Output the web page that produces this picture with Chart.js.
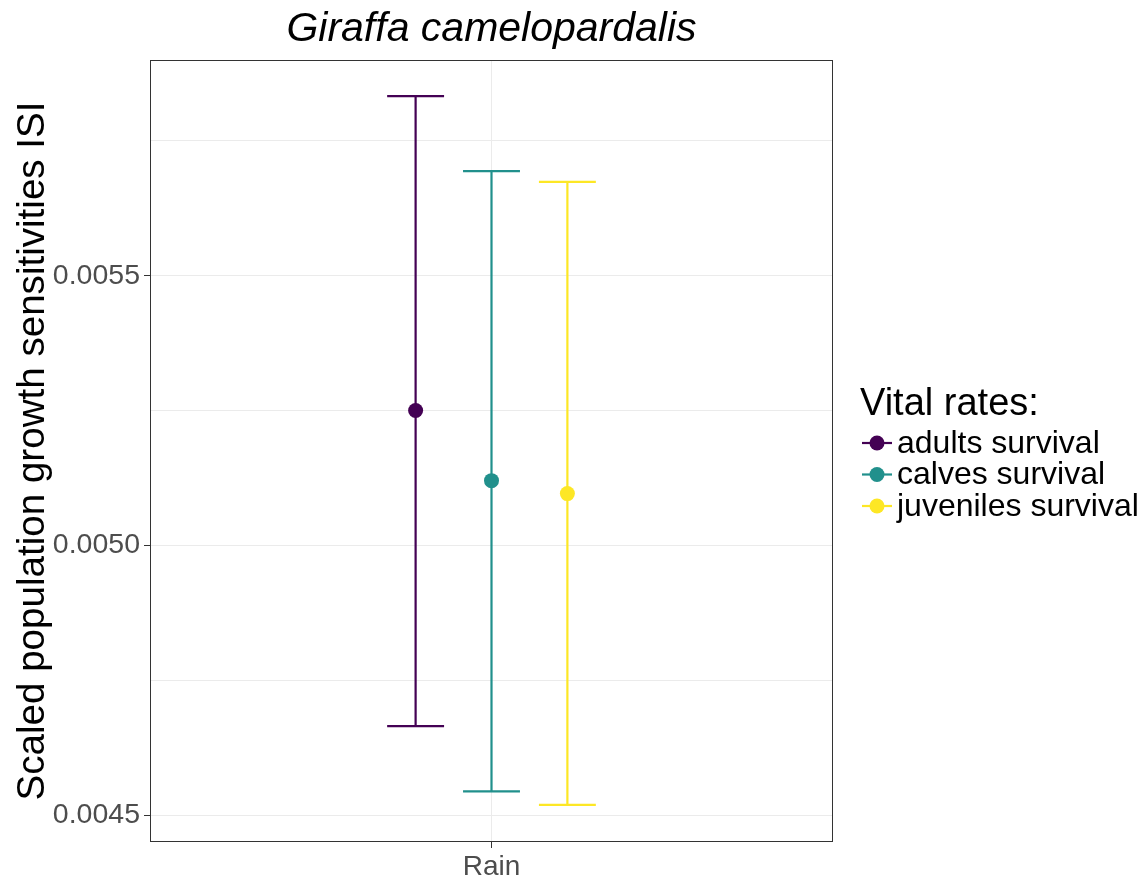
<!DOCTYPE html>
<html>
<head>
<meta charset="utf-8">
<script src="https://cdn.jsdelivr.net/npm/chart.js@4"></script>
<style>
  html, body { margin: 0; padding: 0; background: #fff; }
  #wrap { width: 1146px; height: 877px; }
</style>
</head>
<body>
<div id="wrap"><canvas id="chart" width="1146" height="877"></canvas></div>
<script>
// data
const chartTitle = 'Giraffa camelopardalis';
const yAxisTitle = 'Scaled population growth sensitivities ISI';
const legendTitle = 'Vital rates:';
const category = 'Rain';
const groups = ['adults survival', 'calves survival', 'juveniles survival'];
const means = [0.005250, 0.005120, 0.005096];
const lowers = [0.004665, 0.004544, 0.004519];
const uppers = [0.005833, 0.005694, 0.005674];
const yTickValues = [0.0045, 0.00475, 0.0050, 0.00525, 0.0055, 0.00575];
const yMajorTicks = [0.0045, 0.0050, 0.0055];

const colors = ['#440154', '#21908C', '#FDE725'];
const FONT = '"Liberation Sans", Arial, sans-serif';
const dodgeWidth = 0.4;
const capWidth = 0.1;

// dodge positions around the single category (x = 1)
const xPos = groups.map((g, i) => 1 + (i - (groups.length - 1) / 2) * dodgeWidth / groups.length);

const isMajor = (v) => yMajorTicks.some(m => Math.abs(m - v) < 1e-9);

// error bars, border, title and legend
const extras = {
    id: 'extras',
    beforeDatasetsDraw(chart) {
        const ctx = chart.ctx;
        const x = chart.scales.x, y = chart.scales.y;
        ctx.save();
        ctx.lineWidth = 2.2;
        groups.forEach((g, i) => {
            ctx.strokeStyle = colors[i];
            const px = x.getPixelForValue(xPos[i]);
            const pl = x.getPixelForValue(xPos[i] - capWidth / 2);
            const pr = x.getPixelForValue(xPos[i] + capWidth / 2);
            const top = y.getPixelForValue(uppers[i]);
            const bot = y.getPixelForValue(lowers[i]);
            ctx.beginPath();
            ctx.moveTo(px, top); ctx.lineTo(px, bot);
            ctx.moveTo(pl, top); ctx.lineTo(pr, top);
            ctx.moveTo(pl, bot); ctx.lineTo(pr, bot);
            ctx.stroke();
        });
        ctx.restore();
    },
    afterDraw(chart) {
        const ctx = chart.ctx;
        const a = chart.chartArea;
        ctx.save();
        // panel border
        ctx.strokeStyle = '#333333';
        ctx.lineWidth = 1;
        ctx.strokeRect(a.left + 0.5, a.top + 0.5, a.right - a.left - 1, a.bottom - a.top - 1);

        // title
        ctx.fillStyle = '#000';
        ctx.font = 'italic 41px ' + FONT;
        ctx.textAlign = 'center';
        ctx.textBaseline = 'middle';
        ctx.fillText(chartTitle, (a.left + a.right) / 2, 30);

        // legend
        ctx.textAlign = 'left';
        ctx.font = '38px ' + FONT;
        ctx.fillText(legendTitle, 860, 405);
        ctx.font = '32px ' + FONT;
        groups.forEach((g, i) => {
            const cy = 443 + i * 31.5;
            ctx.strokeStyle = colors[i];
            ctx.lineWidth = 2.2;
            ctx.beginPath();
            ctx.moveTo(862, cy); ctx.lineTo(892, cy);
            ctx.stroke();
            ctx.fillStyle = colors[i];
            ctx.beginPath();
            ctx.arc(877, cy, 7.5, 0, Math.PI * 2);
            ctx.fill();
            ctx.fillStyle = '#000';
            ctx.fillText(g, 897, cy + 1);
        });
        ctx.restore();
    }
};

const ctx = document.getElementById('chart').getContext('2d');
const chart = new Chart(ctx, {
    type: 'scatter',
    data: {
        datasets: groups.map((g, i) => ({
            label: g,
            data: [{ x: xPos[i], y: means[i] }],
            backgroundColor: colors[i],
            borderWidth: 0,
            pointRadius: 7.5,
            pointHoverRadius: 7.5
        }))
    },
    options: {
        responsive: false,
        animation: false,
        layout: { padding: { left: 8, right: 313, top: 60, bottom: 0 } },
        plugins: {
            legend: { display: false },
            tooltip: { enabled: false }
        },
        scales: {
            x: {
                type: 'linear',
                min: 0.4,
                max: 1.6,
                afterBuildTicks: (scale) => { scale.ticks = [{ value: 1 }]; },
                afterFit: (scale) => { scale.height = 35; },
                ticks: {
                    callback: () => category,
                    color: '#4d4d4d',
                    font: { family: FONT, size: 28 },
                    padding: 2,
                    maxRotation: 0
                },
                grid: { color: '#ebebeb', tickColor: '#333333', tickLength: 6, lineWidth: 1 },
                border: { display: false }
            },
            y: {
                min: 0.00445,
                max: 0.0059,
                afterBuildTicks: (scale) => { scale.ticks = yTickValues.map(v => ({ value: v })); },
                afterFit: (scale) => { scale.width = 142; },
                ticks: {
                    callback: (v) => isMajor(v) ? v.toFixed(4) : '',
                    color: '#4d4d4d',
                    font: { family: FONT, size: 28.5 },
                    padding: 4
                },
                grid: {
                    color: '#ebebeb',
                    tickColor: (c) => isMajor(c.tick.value) ? '#333333' : 'rgba(0,0,0,0)',
                    tickLength: 6,
                    lineWidth: 1
                },
                border: { display: false },
                title: {
                    display: true,
                    text: yAxisTitle,
                    color: '#000',
                    font: { family: FONT, size: 38.6 },
                    padding: { top: 2, bottom: 4 }
                }
            }
        }
    },
    plugins: [extras]
});
</script>
</body>
</html>
